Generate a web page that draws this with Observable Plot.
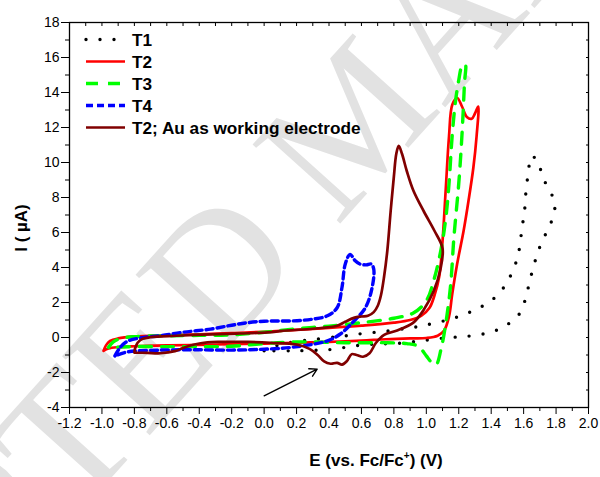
<!DOCTYPE html>
<html>
<head>
<meta charset="utf-8">
<script src="https://cdn.jsdelivr.net/npm/d3@7"></script>
<script src="https://cdn.jsdelivr.net/npm/@observablehq/plot@0.6"></script>
<style>
  html, body { margin: 0; padding: 0; background: #fff; }
  #chart { width: 600px; height: 477px; }
</style>
</head>
<body>
<div id="chart"></div>
<script>
// Cyclic voltammograms: potential E (V vs. Fc/Fc+) and current I (µA)
const seriesNames = ["T1", "T2", "T3", "T4", "T2; Au as working electrode"];

const t1E = [0.00,0.05,0.15,0.30,0.45,0.53,0.61,0.71,0.80,0.90,0.975,1.067,1.15,1.24,1.323,1.416,1.488,1.533,1.564,1.58,1.59,1.605,1.61,1.62,1.63,1.648,1.665,1.69,1.71,1.745,1.79,1.786,1.75,1.708,1.677,1.652,1.63,1.608,1.57,1.488,1.406,1.317,1.22,1.14,1.046,0.96,0.88,0.78,0.70,0.61,0.52,0.43,0.35,0.17,0.00];
const t1I = [-0.76,-0.55,-0.30,-0.12,0.04,0.13,0.23,0.32,0.42,0.55,0.67,0.86,1.05,1.34,1.68,2.23,3.00,3.81,4.63,5.47,6.30,7.10,7.90,8.77,9.56,10.38,10.30,10.00,9.43,8.61,7.81,7.01,6.19,5.37,4.55,3.74,2.91,2.10,1.30,0.67,0.33,0.15,0.04,0.00,-0.10,-0.19,-0.30,-0.35,-0.37,-0.42,-0.53,-0.67,-0.72,-0.76,-0.76];

const t2E = [-0.99,-0.975,-0.95,-0.90,-0.80,-0.60,-0.40,-0.20,0.00,0.20,0.40,0.60,0.80,0.90,0.97,1.02,1.05,1.08,1.10,1.12,1.14,1.16,1.19,1.22,1.25,1.28,1.30,1.32,1.31,1.29,1.26,1.23,1.19,1.16,1.14,1.11,1.07,1.00,0.90,0.75,0.60,0.40,0.20,0.00,-0.20,-0.40,-0.60,-0.80,-0.90,-0.96,-0.99];
const t2I = [-0.76,-0.45,-0.20,-0.05,0.06,0.13,0.18,0.25,0.33,0.44,0.55,0.68,0.85,1.00,1.25,1.70,2.40,3.50,5.50,8.50,11.50,13.30,13.70,13.20,12.60,12.50,12.80,13.20,11.50,9.70,7.80,6.10,4.20,2.50,1.20,0.40,0.10,-0.03,-0.05,-0.10,-0.18,-0.25,-0.30,-0.35,-0.38,-0.42,-0.45,-0.50,-0.55,-0.63,-0.76];

const t3E = [-0.96,-0.93,-0.88,-0.80,-0.60,-0.40,-0.20,0.00,0.20,0.40,0.60,0.80,0.92,1.00,1.05,1.09,1.12,1.14,1.16,1.18,1.20,1.22,1.24,1.235,1.22,1.20,1.17,1.15,1.12,1.09,1.06,1.03,1.00,0.95,0.88,0.76,0.50,0.20,0.00,-0.20,-0.40,-0.60,-0.80,-0.90,-0.96];
const t3I = [-0.57,-0.25,-0.05,0.05,0.10,0.12,0.15,0.30,0.50,0.65,0.85,1.10,1.40,2.10,3.40,5.00,6.80,8.80,11.60,13.50,14.70,15.50,15.60,14.50,11.60,8.80,5.70,3.00,0.80,-0.70,-1.55,-1.40,-1.05,-0.50,-0.35,-0.30,-0.30,-0.25,-0.35,-0.50,-0.52,-0.52,-0.52,-0.55,-0.57];

const t4E = [-0.92,-0.89,-0.84,-0.74,-0.64,-0.50,-0.33,-0.20,-0.10,0.00,0.18,0.30,0.39,0.45,0.48,0.50,0.53,0.56,0.59,0.63,0.66,0.676,0.666,0.625,0.55,0.47,0.39,0.18,0.00,-0.20,-0.43,-0.64,-0.84,-0.92];
const t4I = [-1.05,-0.60,-0.20,0.00,0.10,0.30,0.48,0.70,0.85,0.93,0.95,1.05,1.24,1.70,2.86,4.19,4.75,4.40,4.20,4.15,4.20,3.90,2.86,1.71,0.90,0.20,-0.19,-0.55,-0.67,-0.72,-0.70,-0.72,-0.82,-1.05];

const auE = [-0.80,-0.795,-0.78,-0.75,-0.70,-0.54,-0.33,-0.15,0.02,0.14,0.30,0.45,0.50,0.553,0.60,0.64,0.676,0.70,0.72,0.74,0.76,0.78,0.80,0.815,0.83,0.85,0.88,0.92,0.985,1.05,1.10,1.087,1.046,0.985,0.92,0.82,0.74,0.69,0.65,0.61,0.57,0.54,0.51,0.48,0.45,0.41,0.37,0.33,0.28,0.20,0.04,-0.10,-0.27,-0.35,-0.43,-0.50,-0.55,-0.64,-0.72,-0.80];
const auI = [-0.86,-0.60,-0.30,-0.08,0.02,0.10,0.18,0.23,0.29,0.40,0.50,0.67,0.90,1.12,1.20,1.24,1.45,1.80,2.40,3.50,5.00,7.20,9.20,10.50,10.95,10.50,9.50,8.40,7.20,6.10,5.10,3.90,2.67,1.60,0.85,0.40,0.15,-0.30,-0.90,-1.10,-1.00,-0.95,-1.35,-1.55,-1.45,-1.50,-1.37,-1.00,-0.65,-0.40,-0.30,-0.25,-0.25,-0.28,-0.40,-0.60,-0.78,-0.90,-0.88,-0.86];

// Annotation arrow pointing at the reduction waves (start, end)
const arrowE = [0.00, 0.327];
const arrowI = [-3.33, -1.81];

// Axis ticks
const xTicks = [-1.2,-1.0,-0.8,-0.6,-0.4,-0.2,0.0,0.2,0.4,0.6,0.8,1.0,1.2,1.4,1.6,1.8,2.0];
const xMinor = [-1.1,-0.9,-0.7,-0.5,-0.3,-0.1,0.1,0.3,0.5,0.7,0.9,1.1,1.3,1.5,1.7,1.9];
const yTicks = [-4,-2,0,2,4,6,8,10,12,14,16,18];
const yMinor = [-3,-1,1,3,5,7,9,11,13,15,17];

const watermark = "ACCEPTED MANUSCRIPT";

const font = "'Liberation Sans', Arial, Helvetica, sans-serif";
const styles = [
  {stroke: "#000000", strokeWidth: 3.4, strokeDasharray: "0 14", strokeLinecap: "round"},
  {stroke: "#ff0000", strokeWidth: 2.7},
  {stroke: "#00ff00", strokeWidth: 3.4, strokeDasharray: "12 10"},
  {stroke: "#0000ff", strokeWidth: 3.4, strokeDasharray: "7 4"},
  {stroke: "#800000", strokeWidth: 2.7}
];

const toPoints = (E, I) => E.map((e, i) => ({E: e, I: I[i]}));
const series = [toPoints(t1E, t1I), toPoints(t2E, t2I), toPoints(t3E, t3I), toPoints(t4E, t4I), toPoints(auE, auI)];
const arrowData = [{x1: arrowE[0], y1: arrowI[0], x2: arrowE[1], y2: arrowI[1]}];
const blank = () => "";

const chart = Plot.plot({
  width: 600,
  height: 477,
  marginLeft: 69,
  marginRight: 12,
  marginTop: 22,
  marginBottom: 70,
  style: {fontFamily: font, fontSize: "14px", color: "#000", background: "#fff", overflow: "visible"},
  x: {domain: [-1.2, 2.0]},
  y: {domain: [-4, 18]},
  marks: [
    Plot.text([watermark], {
      text: d => d, frameAnchor: "middle", dx: 27, dy: -95, rotate: -48,
      fontSize: 180, fill: "#e2e2e2", fontFamily: "'Liberation Serif', 'Times New Roman', serif",
      textAnchor: "middle", lineAnchor: "middle"
    }),
    // bottom and left axes, ticks outward
    Plot.axisX({ticks: xTicks, tickFormat: d => d.toFixed(1), tickSize: 7, tickPadding: 4, label: null, fontSize: 14}),
    Plot.axisX({ticks: xMinor, tickFormat: blank, tickSize: 4, label: null}),
    Plot.axisY({ticks: yTicks, tickFormat: d => String(d), tickSize: 8, tickPadding: 2, label: null, fontSize: 14}),
    Plot.axisY({ticks: yMinor, tickFormat: blank, tickSize: 4, label: null}),
    // top and right mirror ticks, pointing inward
    Plot.axisX({anchor: "top", ticks: xTicks.concat(xMinor), tickFormat: blank, tickSize: 3, dy: 3, label: null}),
    Plot.axisY({anchor: "right", ticks: yTicks.concat(yMinor), tickFormat: blank, tickSize: 3, dx: -3, label: null}),
    ...series.map((pts, i) => Plot.line(pts, {x: "E", y: "I", curve: "catmull-rom", ...styles[i]})),
    Plot.arrow(arrowData, {x1: "x1", y1: "y1", x2: "x2", y2: "y2", stroke: "#000", strokeWidth: 1.4, headLength: 9}),
    Plot.frame({stroke: "#000", strokeWidth: 1.3})
  ]
});

document.getElementById("chart").appendChild(chart);

// Legend and axis titles
const svg = d3.select(chart);
const legend = svg.append("g")
  .attr("font-family", font).attr("font-weight", "bold").attr("font-size", 17.2)
  .attr("text-anchor", "start");
seriesNames.forEach((name, i) => {
  const y = 39.5 + 22 * i;
  const s = styles[i];
  legend.append("line")
    .attr("x1", 86).attr("x2", 125).attr("y1", y).attr("y2", y)
    .attr("stroke", s.stroke).attr("stroke-width", s.strokeWidth)
    .attr("stroke-dasharray", s.strokeDasharray || null)
    .attr("stroke-linecap", s.strokeLinecap || "butt");
  legend.append("text").attr("x", 132).attr("y", y).attr("dy", "0.36em")
    .attr("text-anchor", "start").attr("fill", "#000").text(name);
});

svg.append("text")
  .attr("transform", "translate(21,228) rotate(-90)")
  .attr("text-anchor", "middle").attr("dy", "0.36em")
  .attr("font-family", font).attr("font-weight", "bold").attr("font-size", 17)
  .text("I ( \u00b5A)");

const xt = svg.append("text")
  .attr("x", 376).attr("y", 466)
  .attr("text-anchor", "middle")
  .attr("font-family", font).attr("font-weight", "bold").attr("font-size", 17);
xt.append("tspan").text("E (vs. Fc/Fc");
xt.append("tspan").attr("font-size", 10).attr("dy", -7).text("+");
xt.append("tspan").attr("dy", 7).text(") (V)");
</script>
</body>
</html>
